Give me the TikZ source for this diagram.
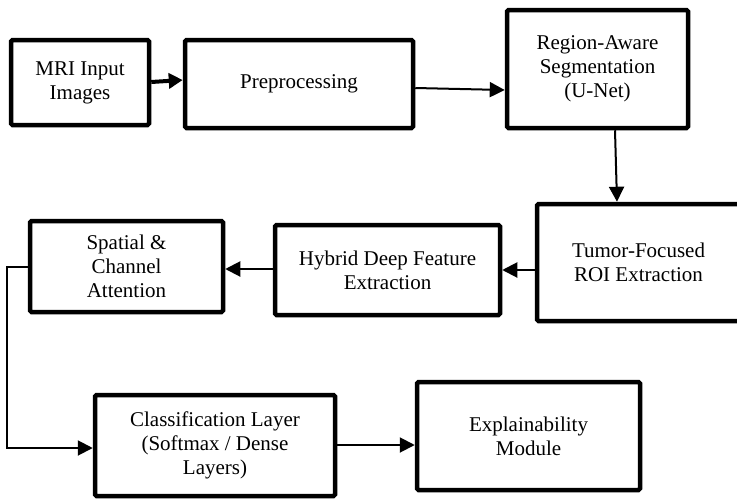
\documentclass[tikz,border=0pt]{standalone}
\usepackage{fontspec}
\setmainfont{Liberation Serif}
\usetikzlibrary{arrows.meta}
\tikzset{
  block/.style={draw=black, line width=4.5pt, rounded corners=1.5pt, fill=white,
    align=center, inner sep=0pt, font=\fontsize{21}{24}\selectfont},
  link/.style={line width=2pt, -{Triangle[length=15pt,width=15pt]}},
  boldlink/.style={line width=4pt, -{Triangle[length=14pt,width=15pt]}}
}
\begin{document}
\begin{tikzpicture}[x=1pt,y=-1pt]
\useasboundingbox (0,0) rectangle (737,501);
\fill[white] (0,0) rectangle (737,501);
\begin{scope}
\clip (0,0) rectangle (737,501);
% processing blocks
\node[block, minimum width=138pt, minimum height=85pt] (mri) at (80,82.5) {MRI Input\\Images};
\node[block, minimum width=228pt, minimum height=88pt] (pre) at (299,84) {Preprocessing};
\node[block, minimum width=181pt, minimum height=118pt] (seg) at (597.5,69) {Region-Aware\\Segmentation\\(U-Net)};
\node[block, minimum width=203pt, minimum height=117pt] (roi) at (638.5,262.5) {Tumor-Focused\\ROI Extraction};
\node[block, minimum width=225pt, minimum height=90pt] (hyb) at (387.5,270) {Hybrid Deep Feature\\Extraction};
\node[block, minimum width=193pt, minimum height=91pt] (att) at (126.5,266.5) {Spatial \&\\Channel\\Attention};
\node[block, minimum width=240pt, minimum height=101pt] (cls) at (215,445.5) {Classification Layer\\(Softmax / Dense\\Layers)};
\node[block, minimum width=223pt, minimum height=108pt] (exp) at (528.5,436) {Explainability\\Module};
\end{scope}
% connectors
\draw[boldlink] (mri.east |- 0,82) -- (pre.west |- 0,80);
\draw[link] (pre.east |- 0,88) -- (seg.west |- 0,90);
\draw[link] (seg.south -| 615,0) -- (roi.north -| 617,0);
\draw[link] (roi.west |- 0,270) -- (hyb.east |- 0,270);
\draw[link] (hyb.west |- 0,269) -- (att.east |- 0,269);
\draw[link] (att.west |- 0,267) -- (7,267) |- (cls.west |- 0,448);
\draw[link] (cls.east |- 0,445) -- (exp.west |- 0,445);
\end{tikzpicture}
\end{document}
